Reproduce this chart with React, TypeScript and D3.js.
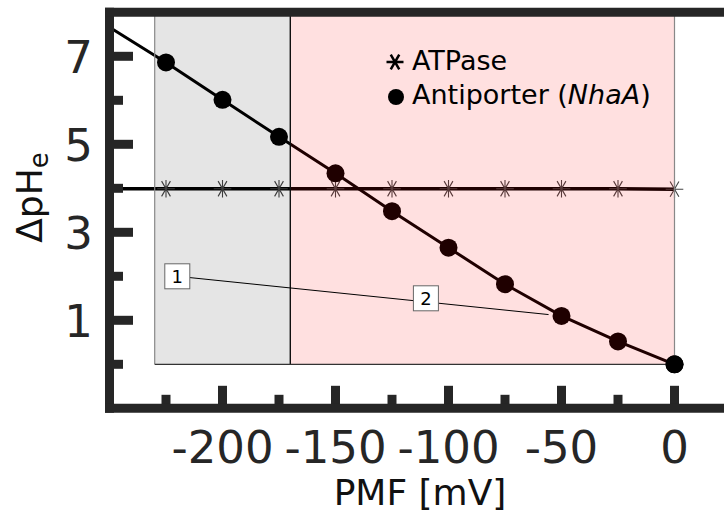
import React from "react";
import * as d3 from "d3";

// PMF values (mV) where the markers sit
const pmfPoints = [-225, -200, -175, -150, -125, -100, -75, -50, -25, 0];
// line continues to the left edge of the axes
const pmfStart = -250;
const antiporterStart = 7.66;
const atpaseStart = 3.99;
const antiporter = [6.86, 6.01, 5.17, 4.34, 3.48, 2.65, 1.82, 1.1, 0.52, 0.0];
const atpase = [3.99, 3.99, 3.99, 3.99, 3.99, 3.99, 3.99, 3.99, 3.99, 3.98];

const xMajor = [-200, -150, -100, -50, 0];
const xMinor = [-225, -175, -125, -75, -25];
const yMajor = [1, 3, 5, 7];
const yMinor = [0, 2, 4, 6];

// shaded regions [from, to] in mV
const grayRegion = [-230, -170];
const pinkRegion = [-170, 0];

const noteLabels = ["1", "2"];
const noteX = [-220, -110];
const noteY = [2, 1.5];
const noteTargetPmf = -50;

const W = 724;
const H = 513;
const ink = "#262626";
const font = "DejaVu Sans, Liberation Sans, sans-serif";

const x = d3.scaleLinear().domain([-250, 25]).range([109.5, 731]);
const y = d3.scaleLinear().domain([-1, 8]).range([408.3, 12.3]);

const line = d3
  .line<[number, number]>()
  .x((d) => x(d[0]))
  .y((d) => y(d[1]));

const starPath = (r: number) => {
  // vertical + horizontal + two steep diagonals
  const a = (Math.PI / 180) * 60;
  const dx = r * Math.cos(a);
  const dy = r * Math.sin(a);
  return `M0,${-r}L0,${r}M${-r},0L${r},0M${-dx},${-dy}L${dx},${dy}M${-dx},${dy}L${dx},${-dy}`;
};

const legendStar = (r: number) => {
  const a = (Math.PI / 180) * 60;
  const dx = r * Math.cos(a);
  const dy = r * Math.sin(a);
  return `M${-r},0L${r},0M${-dx},${-dy}L${dx},${dy}M${-dx},${dy}L${dx},${-dy}`;
};

export default function App() {
  const antiLine: [number, number][] = [[pmfStart, antiporterStart]].concat(
    pmfPoints.map((p, i) => [p, antiporter[i]] as [number, number])
  ) as [number, number][];
  const atpLine: [number, number][] = [[pmfStart, atpaseStart]].concat(
    pmfPoints.map((p, i) => [p, atpase[i]] as [number, number])
  ) as [number, number][];

  const targetIdx = pmfPoints.indexOf(noteTargetPmf);
  const tx = x(noteTargetPmf);
  const ty = y(antiporter[targetIdx]);
  const lastIdx = pmfPoints.length - 1;

  const left = x.range()[0];
  const top = y.range()[1];
  const bottom = y.range()[0];

  // leader line from the first box to the marker; the second box sits on it
  const bx = x(noteX[0]);
  const by = y(noteY[0]);
  const ldx = tx - bx;
  const ldy = ty - by;
  const llen = Math.hypot(ldx, ldy);

  return (
    <svg
      width={W}
      height={H}
      style={{ position: "absolute", left: 0, top: 0, background: "#fff" }}
      fontFamily={font}
    >
      {/* data lines */}
      <path d={line(atpLine) || ""} fill="none" stroke="#000" strokeWidth={3.5} />
      <path d={line(antiLine) || ""} fill="none" stroke="#000" strokeWidth={3} />
      {pmfPoints.map((p, i) => (
        <path
          key={"s" + p}
          d={starPath(8.8)}
          transform={`translate(${x(p)},${y(atpase[i])})`}
          stroke="#444"
          strokeWidth={1.1}
          fill="none"
        />
      ))}
      {pmfPoints.map((p, i) => (
        <circle key={"c" + p} cx={x(p)} cy={y(antiporter[i])} r={9} fill="#000" />
      ))}

      {/* shaded regions */}
      <rect
        x={x(grayRegion[0])}
        y={y(8)}
        width={x(grayRegion[1]) - x(grayRegion[0])}
        height={y(0) - y(8)}
        fill="#000"
        fillOpacity={0.1}
      />
      <rect
        x={x(pinkRegion[0])}
        y={y(8)}
        width={x(pinkRegion[1]) - x(pinkRegion[0])}
        height={y(0) - y(8)}
        fill="#ff0000"
        fillOpacity={0.12}
      />
      <line x1={x(grayRegion[0])} x2={x(grayRegion[0])} y1={y(8)} y2={y(0)} stroke="#888" strokeWidth={1.2} />
      <line x1={x(pinkRegion[1])} x2={x(pinkRegion[1])} y1={y(8)} y2={y(0)} stroke="#888" strokeWidth={1.2} />
      <line x1={x(pinkRegion[0])} x2={x(pinkRegion[0])} y1={y(8)} y2={y(0)} stroke="#111" strokeWidth={1.4} />
      <line x1={x(grayRegion[0])} x2={x(pinkRegion[1])} y1={y(0)} y2={y(0)} stroke="#333" strokeWidth={1.3} />

      {/* last marker sits on the region edge and shows fully black */}
      <circle cx={x(pmfPoints[lastIdx])} cy={y(antiporter[lastIdx])} r={9} fill="#000" />

      {/* annotations */}
      <line
        x1={bx + 12.5}
        y1={by + (ldy / ldx) * 12.5}
        x2={tx - (ldx / llen) * 13}
        y2={ty - (ldy / llen) * 13}
        stroke="#000"
        strokeWidth={1}
      />
      {noteLabels.map((lab, i) => {
        const cx = x(noteX[i]);
        const cy = y(noteY[i]);
        return (
          <g key={"b" + lab}>
            <rect x={cx - 12.5} y={cy - 12.5} width={25} height={25} fill="#fff" stroke="#666" strokeWidth={1} />
            <text x={cx} y={cy + 6.5} textAnchor="middle" fontSize={18} fill="#000">
              {lab}
            </text>
          </g>
        );
      })}

      {/* legend */}
      <path d={legendStar(8.5)} transform="translate(395,62)" stroke="#000" strokeWidth={2.5} fill="none" />
      <text x={412} y={70} fontSize={27} fill="#000">
        ATPase
      </text>
      <circle cx={396} cy={97} r={8} fill="#000" />
      <text x={412} y={104} fontSize={27} fill="#000">
        Antiporter (<tspan fontStyle="italic">NhaA</tspan>)
      </text>

      {/* ticks */}
      {xMajor.map((t) => (
        <line key={"xM" + t} x1={x(t)} x2={x(t)} y1={bottom} y2={bottom - 22.5} stroke={ink} strokeWidth={9} />
      ))}
      {xMinor.map((t) => (
        <line key={"xm" + t} x1={x(t)} x2={x(t)} y1={bottom} y2={bottom - 13.5} stroke={ink} strokeWidth={9} />
      ))}
      {yMajor.map((t) => (
        <line key={"yM" + t} x1={left} x2={left + 23.5} y1={y(t)} y2={y(t)} stroke={ink} strokeWidth={9} />
      ))}
      {yMinor.map((t) => (
        <line key={"ym" + t} x1={left} x2={left + 13.5} y1={y(t)} y2={y(t)} stroke={ink} strokeWidth={9} />
      ))}

      {/* spines */}
      <line x1={left} x2={left} y1={top - 4.5} y2={bottom + 4.5} stroke={ink} strokeWidth={9} />
      <line x1={left - 4.5} x2={W + 10} y1={top} y2={top} stroke={ink} strokeWidth={9} />
      <line x1={left - 4.5} x2={W + 10} y1={bottom} y2={bottom} stroke={ink} strokeWidth={9} />

      {/* tick labels */}
      {xMajor.map((t) => (
        <text key={"xt" + t} x={x(t)} y={463} textAnchor="middle" fontSize={45} fill={ink}>
          {t}
        </text>
      ))}
      {yMajor.map((t) => (
        <text key={"yt" + t} x={93} y={y(t) + 16.5} textAnchor="end" fontSize={45} fill={ink}>
          {t}
        </text>
      ))}

      {/* axis labels */}
      <text x={420} y={505} textAnchor="middle" fontSize={36} fill="#111">
        PMF [mV]
      </text>
      <text transform="translate(42,197.5) rotate(-90)" textAnchor="middle" fontSize={36} fill="#111">
        ΔpH
        <tspan fontSize={26} dy={6}>
          e
        </tspan>
      </text>
    </svg>
  );
}
